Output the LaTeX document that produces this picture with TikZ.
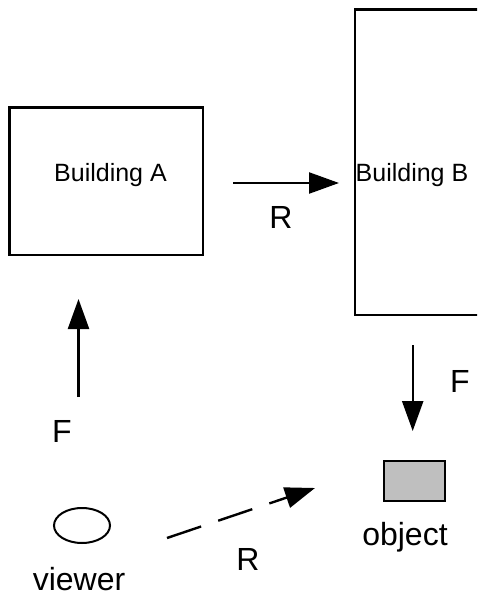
\documentclass[tikz,border=0pt]{standalone}
\usepackage{fontspec}
\setmainfont{Liberation Sans}
\usetikzlibrary{arrows.meta,shapes.geometric}
\definecolor{objgray}{RGB}{191,191,191}
\begin{document}
\begin{tikzpicture}[x=1pt,y=-1pt,
  box/.style={draw=black,line width=2.4pt},
  bigtxt/.style={anchor=base,inner sep=0pt,font=\fontsize{25}{30}\selectfont},
  lbl/.style={anchor=base,inner sep=0pt,font=\fontsize{32}{36}\selectfont},
  arr/.style={line width=2.4pt,-{Triangle[length=30pt,width=21pt]}}
]
\useasboundingbox[fill=white] (0,0) rectangle (477,596);
\begin{scope}
\clip (0,0) rectangle (477,596);
% buildings
\node[box,minimum width=193.5pt,minimum height=147.5pt,inner sep=0pt] (A) at (106.25,181.25) {};
\node[box,minimum width=131pt,minimum height=305.5pt,inner sep=0pt] (B) at (420.2,162.45) {};
\node[bigtxt] (Atxt) at (110.5,182) {Building A};
\node[bigtxt] (Btxt) at (412,182) {Building B};
% object and viewer
\node[box,fill=objgray,minimum width=61pt,minimum height=40pt,inner sep=0pt] (obj) at (414.3,480.75) {};
\node[lbl] (objtxt) at (405,545) {object};
\node[draw=black,line width=2pt,ellipse,minimum width=56pt,minimum height=35pt,inner sep=0pt] (view) at (82,525.5) {};
\node[lbl] (viewtxt) at (79,590) {viewer};
% labels
\node[lbl] (R1) at (281,228) {R};
\node[lbl] (F1) at (62,442) {F};
\node[lbl] (F2) at (460,392) {F};
\node[lbl] (R2) at (248,570) {R};
% arrow ends
\coordinate (ab1) at (233,183);
\coordinate (ab2) at (339,183);
\coordinate (fa1) at (78.5,397);
\coordinate (fa2) at (78.5,299);
\coordinate (fb1) at (412.7,345);
\coordinate (fb2) at (412.7,431);
\coordinate (vr1) at (167,538);
\coordinate (vr2) at (315,488);
\draw[arr] (ab1) -- (ab2);
\draw[arr] (fa1) -- (fa2);
\draw[arr] (fb1) -- (fb2);
\draw[arr,dash pattern=on 36pt off 18pt] (vr1) -- (vr2);
\end{scope}
\end{tikzpicture}
\end{document}
